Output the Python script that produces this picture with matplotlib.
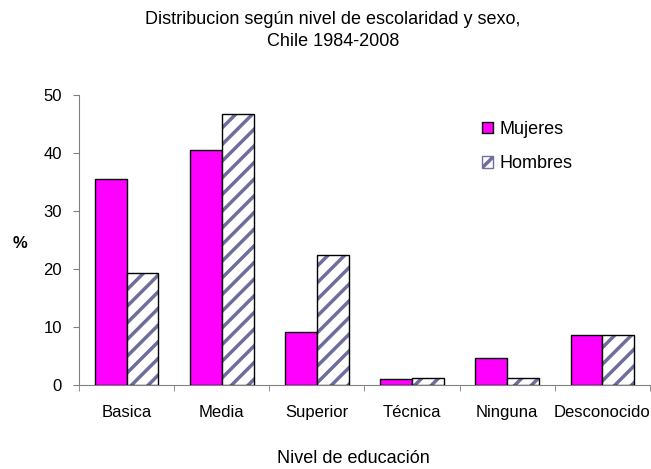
import matplotlib
matplotlib.use("Agg")
import matplotlib.pyplot as plt
import numpy as np
from matplotlib.patches import Patch

categories = ["Basica", "Media", "Superior", "Técnica", "Ninguna", "Desconocido"]
mujeres = [35.5, 40.5, 9.1, 1.0, 4.7, 8.6]
hombres = [19.3, 46.8, 22.4, 1.2, 1.2, 8.6]
yticks = [0, 10, 20, 30, 40, 50]

plt.rcParams['font.family'] = ['Liberation Sans', 'DejaVu Sans']
plt.rcParams['hatch.linewidth'] = 2.5

W, H = 651, 469
fig = plt.figure(figsize=(W/100, H/100), dpi=100)
ax = fig.add_axes([79/W, 1-385.3/H, (650-79)/W, (385.3-95)/H])

x = np.arange(len(categories))
w = 0.335
ax.bar(x - w/2, mujeres, w, color='#ff00ff', edgecolor='black', linewidth=1.0, zorder=3)
ax.bar(x + w/2, hombres, w, color='white', edgecolor='#6e6e9e', hatch='//', linewidth=0, zorder=3)
ax.bar(x + w/2, hombres, w, fill=False, edgecolor='black', linewidth=1.0, zorder=4)

h1 = Patch(facecolor='#ff00ff', edgecolor='black', label='Mujeres')
h2 = Patch(facecolor='white', edgecolor='#6e6e9e', hatch='//', label='Hombres')
fig.legend(handles=[h1, h2], loc='upper left', bbox_to_anchor=(482/W, 1-121/H), frameon=False,
           fontsize=13, handlelength=0.62, handleheight=0.62, handletextpad=0.35,
           labelspacing=0.95, borderpad=0, borderaxespad=0)

ax.set_xlim(-0.5, len(categories) - 0.5)
ax.set_ylim(0, 50)
ax.set_yticks(yticks)
ax.set_yticklabels([str(v) for v in yticks], fontsize=12)
ax.set_xticks(x)
ax.set_xticklabels(categories, fontsize=12)
ax.tick_params(axis='x', length=0, pad=14)
ax.set_xticks(np.arange(len(categories) + 1) - 0.5, minor=True)
ax.tick_params(axis='x', which='minor', length=4, color='#808080')
ax.tick_params(axis='y', length=4.3, color='#808080', pad=8)
for s in ['top', 'right']:
    ax.spines[s].set_visible(False)
ax.spines['left'].set_color('#808080')
ax.spines['bottom'].set_color('#808080')

fig.text(333/W, 1-19/H, "Distribucion según nivel de escolaridad y sexo,", ha='center', va='center', fontsize=13)
fig.text(333/W, 1-42/H, "Chile 1984-2008", ha='center', va='center', fontsize=13)
fig.text(20/W, 1-243/H, "%", ha='center', va='center', fontsize=12, fontweight='bold')
fig.text(353/W, 1-458/H, "Nivel de educación", ha='center', va='center', fontsize=13)

fig.savefig("out.png", dpi=100)
